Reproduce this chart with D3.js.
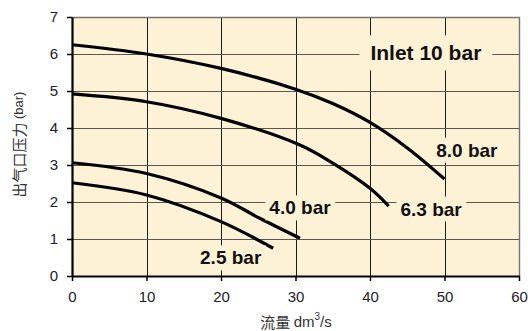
<!DOCTYPE html>
<html>
<head>
<meta charset="utf-8">
<script src="https://cdn.jsdelivr.net/npm/d3@7"></script>
<style>
  body { margin: 0; background: #fff; }
  svg { display: block; font-family: "Liberation Sans", Arial, Helvetica, sans-serif; }
</style>
</head>
<body>
<div id="chart"></div>
<script>
// flow (dm3/s) vs outlet pressure (bar), one curve per supply pressure
const flowTicks = [0, 10, 20, 30, 40, 50, 60];
const pressureTicks = [0, 1, 2, 3, 4, 5, 6, 7];

const curve80 = [[0, 6.25], [10, 6.0], [20, 5.61], [30, 5.05], [35, 4.66], [40, 4.15], [45, 3.46], [50, 2.62]];
const curve63 = [[0, 4.92], [10, 4.71], [20, 4.26], [30.6, 3.54], [35, 3.05], [40, 2.37], [42.5, 1.89]];
const curve40 = [[0, 3.06], [10, 2.77], [20, 2.11], [25.2, 1.56], [30.6, 1.02]];
const curve25 = [[0, 2.52], [10, 2.19], [20, 1.47], [27, 0.75]];

const curveNames = ["8.0 bar", "6.3 bar", "4.0 bar", "2.5 bar"];
const inletLabel = "Inlet 10 bar";

const width = 528, height = 331;
const margin = {top: 17, right: 9, bottom: 55, left: 72};
const bg = "#fdf1d6";

const svg = d3.select("#chart").append("svg")
    .attr("width", width)
    .attr("height", height);

const x = d3.scaleLinear().domain([0, 60]).range([margin.left, width - margin.right]);
const y = d3.scaleLinear().domain([0, 7]).range([height - margin.bottom, margin.top]);

// plot background
svg.append("rect")
    .attr("x", x(0)).attr("y", y(7))
    .attr("width", x(60) - x(0)).attr("height", y(0) - y(7))
    .attr("fill", bg);

// grid, snapped to whole pixels so the 1px lines stay dark
const gridColor = "#1e1c18";
const snap = v => Math.round(v) + 0.5;
const grid = svg.append("g").attr("shape-rendering", "crispEdges");
flowTicks.slice(1, -1).forEach(d => {
    grid.append("line")
        .attr("x1", snap(x(d))).attr("x2", snap(x(d)))
        .attr("y1", y(7)).attr("y2", y(0))
        .attr("stroke", gridColor).attr("stroke-width", 1);
});
pressureTicks.slice(1, -1).forEach(d => {
    grid.append("line")
        .attr("x1", x(0)).attr("x2", x(60))
        .attr("y1", snap(y(d))).attr("y2", snap(y(d)))
        .attr("stroke", "#5c574d").attr("stroke-width", 1.6);
});

// top / right frame
svg.append("path")
    .attr("d", `M${x(0)},${snap(y(7))}H${snap(x(60))}V${y(0)}`)
    .attr("fill", "none").attr("stroke", "#77736a").attr("stroke-width", 1.4);

// curves
const lineGen = d3.line()
    .x(d => x(d[0]))
    .y(d => y(d[1]))
    .curve(d3.curveCatmullRom.alpha(0.5));

const series = [curve80, curve63, curve40, curve25];
svg.append("g").selectAll("path")
    .data(series)
    .enter().append("path")
    .attr("d", lineGen)
    .attr("fill", "none")
    .attr("stroke", "#000")
    .attr("stroke-width", 3.2);

// labels with a box that cuts the grid
const labelAt = [[53, 3.4], [48.2, 1.81], [30.6, 1.84], [21.3, 0.49]];
const labels = svg.append("g");

function boxedLabel(text, cx, cy, size, padX, padY) {
    const g = labels.append("g");
    const rect = g.append("rect").attr("fill", bg);
    const t = g.append("text")
        .attr("x", cx).attr("y", cy)
        .attr("text-anchor", "middle")
        .attr("dominant-baseline", "central")
        .attr("font-weight", "bold")
        .attr("font-size", size)
        .attr("fill", "#111")
        .text(text);
    const b = t.node().getBBox();
    rect.attr("x", b.x - padX).attr("y", b.y - padY)
        .attr("width", b.width + padX * 2).attr("height", b.height + padY * 2);
}

curveNames.forEach((name, i) => {
    boxedLabel(name, x(labelAt[i][0]), y(labelAt[i][1]), 19, 4, 2);
});
boxedLabel(inletLabel, x(47.5), y(6.03), 21, 11, 6);

// axes
const xAxis = svg.append("g")
    .attr("transform", `translate(0,${y(0)})`)
    .call(d3.axisBottom(x).tickValues(flowTicks).tickFormat(d3.format("d"))
        .tickSize(5).tickPadding(10).tickSizeOuter(0));
const yAxis = svg.append("g")
    .attr("transform", `translate(${x(0)},0)`)
    .call(d3.axisLeft(y).tickValues(pressureTicks).tickFormat(d3.format("d"))
        .tickSize(5).tickPadding(9).tickSizeOuter(0));

[xAxis, yAxis].forEach(a => {
    a.select(".domain").attr("stroke", "#000").attr("stroke-width", 2.2);
    a.selectAll(".tick line").attr("stroke", "#000").attr("stroke-width", 1.5);
    a.selectAll(".tick text")
        .attr("font-size", 15)
        .attr("font-family", "'Liberation Sans', Arial, sans-serif")
        .attr("fill", "#222");
});

// axis titles
const xTitle = svg.append("text")
    .attr("x", 296).attr("y", 321)
    .attr("text-anchor", "middle")
    .attr("dominant-baseline", "central")
    .attr("fill", "#333")
    .attr("font-size", 15);
xTitle.append("tspan")
    .attr("font-family", "'Noto Sans CJK SC', sans-serif")
    .text("流量 ");
xTitle.append("tspan").text("dm");
xTitle.append("tspan").attr("font-size", 10).attr("dy", -5).text("3");
xTitle.append("tspan").attr("dy", 5).text("/s");

const yTitle = svg.append("text")
    .attr("transform", `translate(18,${(y(0) + y(7)) / 2 - 2}) rotate(-90)`)
    .attr("text-anchor", "middle")
    .attr("dominant-baseline", "central")
    .attr("fill", "#333")
    .attr("font-size", 15);
yTitle.append("tspan")
    .attr("font-family", "'Noto Sans CJK SC', sans-serif")
    .text("出气口压力 ");
yTitle.append("tspan").attr("font-size", 13).text("(bar)");
</script>
</body>
</html>
